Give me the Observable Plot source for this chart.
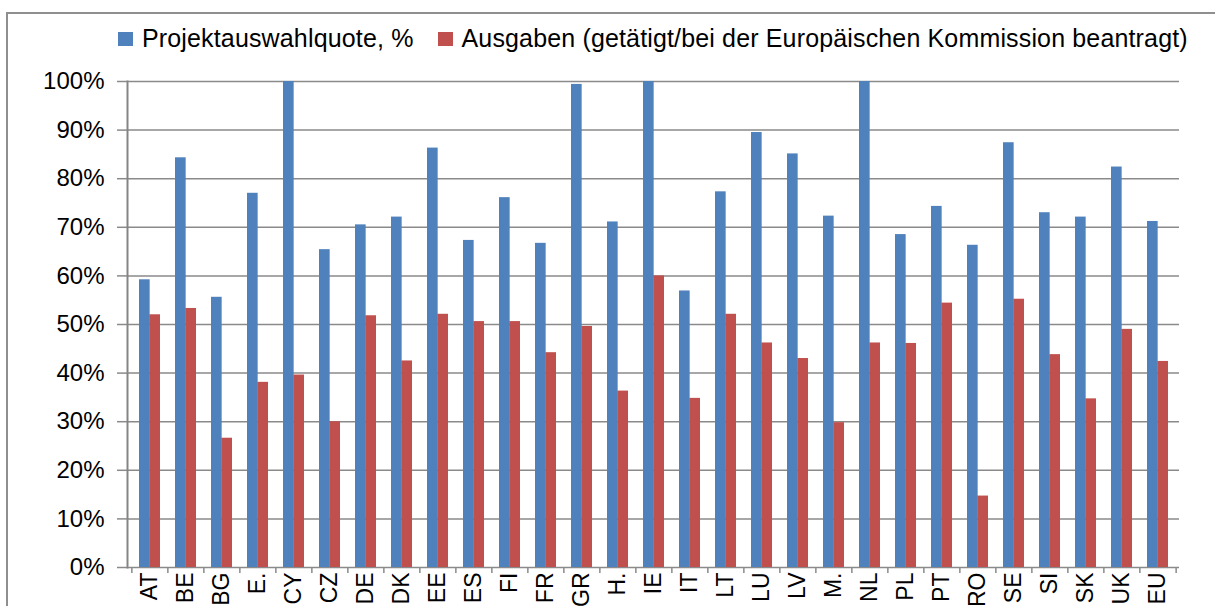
<!DOCTYPE html>
<html><head><meta charset="utf-8">
<script src="https://cdn.jsdelivr.net/npm/d3@7"></script>
<script src="https://cdn.jsdelivr.net/npm/@observablehq/plot@0.6"></script>
<style>
body{margin:0;background:#fff;font-family:"Liberation Sans",Arial,sans-serif;overflow:hidden;width:1215px;height:606px}
#frame{position:absolute;left:6px;top:12px;width:1300px;height:700px;border:2px solid #8f8f8f;box-sizing:border-box}
#legend{position:absolute;left:118px;top:26px;display:flex;align-items:center;font-size:25px;line-height:25px;letter-spacing:0.15px;white-space:nowrap;color:#000}
#legend .item{display:flex;align-items:center}
#legend .sw{display:inline-block;width:15px;height:14px;margin-right:9px}
#chart{position:absolute;left:0;top:60px}
</style></head><body>
<div id="frame"></div><div id="legend"></div><div id="chart"></div>
<script>
const countries = ["AT","BE","BG","E.","CY","CZ","DE","DK","EE","ES","FI","FR","GR","H.","IE","IT","LT","LU","LV","M.","NL","PL","PT","RO","SE","SI","SK","UK","EU"];
const selection = [59.2,84.3,55.6,77.0,100,65.4,70.5,72.1,86.3,67.3,76.1,66.7,99.4,71.1,100,56.9,77.3,89.5,85.1,72.3,100,68.5,74.3,66.3,87.4,73.0,72.1,82.4,71.2];
const spending  = [52.0,53.3,26.6,38.1,39.6,30.0,51.8,42.5,52.1,50.6,50.6,44.2,49.6,36.3,60.0,34.8,52.1,46.2,43.0,29.8,46.2,46.1,54.4,14.7,55.2,43.8,34.7,49.0,42.4];
const seriesNames = ["Projektauswahlquote, %","Ausgaben (getätigt/bei der Europäischen Kommission beantragt)"];
const seriesColors = ["#4f81bd","#c0504d"];
const yTicks = [0,10,20,30,40,50,60,70,80,90,100];

const data = countries.map((c,i)=>({country:c, sel:selection[i], spend:spending[i]}));

// legend
const lg = d3.select("#legend");
seriesNames.forEach((n,i)=>{
  const it = lg.append("div").attr("class","item").style("margin-right", i===0 ? "24px" : "0");
  it.append("span").attr("class","sw").style("background", seriesColors[i]);
  it.append("span").text(n);
});

const W = 1215, ML = 127, MR = 36, MT = 21, MB = 50;
const H = 507 + MB;
const step = (W - ML - MR) / countries.length;
const padI = 0.43;
const bw = step * (1 - padI);
const grey = "#8a8a8a";

const chart = Plot.plot({
  width: W, height: H,
  marginLeft: ML, marginRight: MR, marginTop: MT, marginBottom: MB,
  style: {fontFamily: "'Liberation Sans', Arial, sans-serif", background: "transparent", overflow: "visible"},
  x: {domain: countries, paddingInner: padI, paddingOuter: padI/2, axis: null, label: null},
  y: {domain: [0,100], axis: null, label: null},
  marks: [
    Plot.gridY(yTicks, {stroke: grey, strokeOpacity: 1, strokeWidth: 1.5}),
    Plot.axisY(yTicks, {tickSize: 10, tickPadding: 13, fontSize: 24, stroke: grey, strokeWidth: 1.5, tickFormat: d => d + "%", fill: "#000", label: null}),
    Plot.barY(data, {x: "country", y: "sel", fill: seriesColors[0], insetRight: bw/2}),
    Plot.barY(data, {x: "country", y: "spend", fill: seriesColors[1], insetLeft: bw/2}),
    Plot.frame({anchor: "left", stroke: "#858585", strokeWidth: 2}),
    Plot.axisX({tickSize: 6, text: null, dx: -step/2, stroke: grey, strokeWidth: 1.5, label: null}),
    Plot.axisX([countries[countries.length-1]], {tickSize: 6, text: null, dx: step/2, stroke: grey, strokeWidth: 1.5, label: null}),
    Plot.axisX({tickSize: 0, tickRotate: -90, tickPadding: 5, fontSize: 23, fill: "#000", label: null})
  ]
});
document.getElementById("chart").appendChild(chart);
</script></body></html>
